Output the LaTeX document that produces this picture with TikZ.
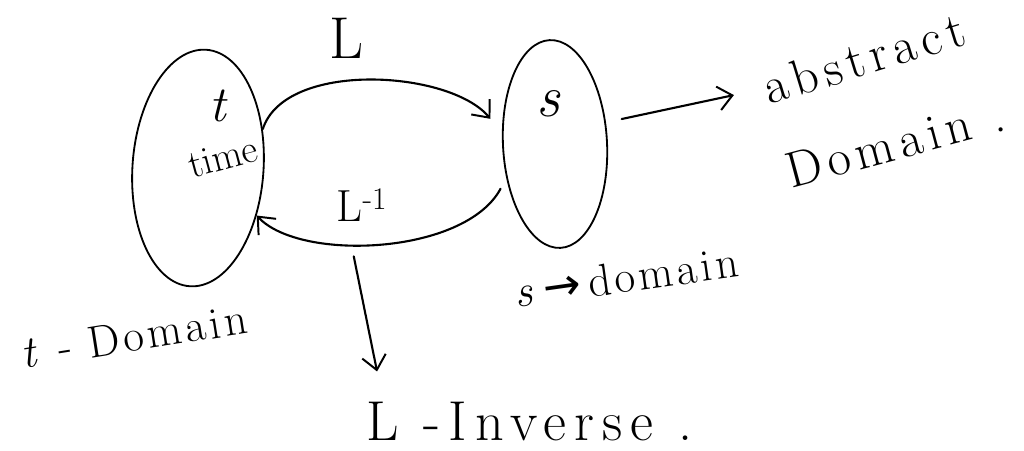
\documentclass[tikz,border=0pt]{standalone}
\usepackage{fontspec}
\setmainfont{Latin Modern Roman}
\newfontfamily\arrowfont{DejaVu Sans}
\usepackage{tikz}
\usetikzlibrary{arrows.meta,positioning,calc,shapes.geometric}

\begin{document}
\begin{tikzpicture}[
  x=0.025cm, y=-0.025cm,
  dom/.style={ellipse, draw, line width=1.3pt, inner sep=0pt},
  conn/.style={-{Straight Barb[length=10pt, width=17pt, line width=1.4pt]}, line width=1.5pt, line cap=round},
  midtxt/.style={font=\fontsize{32}{36}\selectfont\addfontfeatures{LetterSpace=8}, inner sep=1pt},
  bigtxt/.style={font=\fontsize{36}{40}\selectfont\addfontfeatures{LetterSpace=12}, inner sep=1pt},
]
  \useasboundingbox (0,0) rectangle (1024,450);
  \fill[white] (0,0) rectangle (1024,450);

  % Domains
  \node[dom, minimum width=3.275cm, minimum height=5.925cm, rotate=-4] (tdom) at (198,168) {};
  \node[dom, minimum width=2.6cm, minimum height=5.2cm, rotate=3] (sdom) at (555,144) {};

  % Labels inside
  \node[midtxt, font=\fontsize{36}{38}\selectfont\itshape] (tlbl) at (218,106) {t};
  \node[midtxt, font=\fontsize{28}{30}\selectfont, rotate=15] (time) at (223,157) {time};
  \node[midtxt, font=\fontsize{42}{44}\selectfont\itshape] (slbl) at (548,104) {s};

  % Transform labels
  \node[bigtxt, font=\fontsize{42}{44}\selectfont] (lfwd) at (347,38) {L};
  \node[midtxt, font=\fontsize{32}{34}\selectfont] (linv) at (362,205) {L\textsuperscript{-1}};

  % Domain names
  \node[midtxt, rotate=9] (tname) at (134,336) {\textit{t} - Domain};
  \node[midtxt, rotate=8] (sname) at (626,277) {\textit{s}\,{\arrowfont →}\,domain};
  \node[bigtxt, rotate=17] (abs) at (864,58) {abstract};
  \node[bigtxt, rotate=15] (absdom) at (895,143) {Domain .};
  \node[bigtxt, font=\fontsize{40}{42}\selectfont\addfontfeatures{LetterSpace=14}, anchor=west] (inv) at (365,422) {L -Inverse .};

  % Forward and inverse maps
  \draw[conn, shorten >=0.45cm] (tdom.35) .. controls (285,60) and (450,70) .. (sdom.165);
  \draw[conn, shorten <=0.3cm] (sdom.212) .. controls (465,255) and (300,262) .. coordinate[pos=0.6] (linvbot) (tdom.-35);

  % Pointers to names
  \draw[conn, shorten <=0.3cm, shorten >=0.75cm] (linvbot) -- ([xshift=0.45cm]inv.north west);
  \draw[conn, shorten <=0.4cm, shorten >=0.75cm] (sdom.20) -- (abs.west);
\end{tikzpicture}
\end{document}
